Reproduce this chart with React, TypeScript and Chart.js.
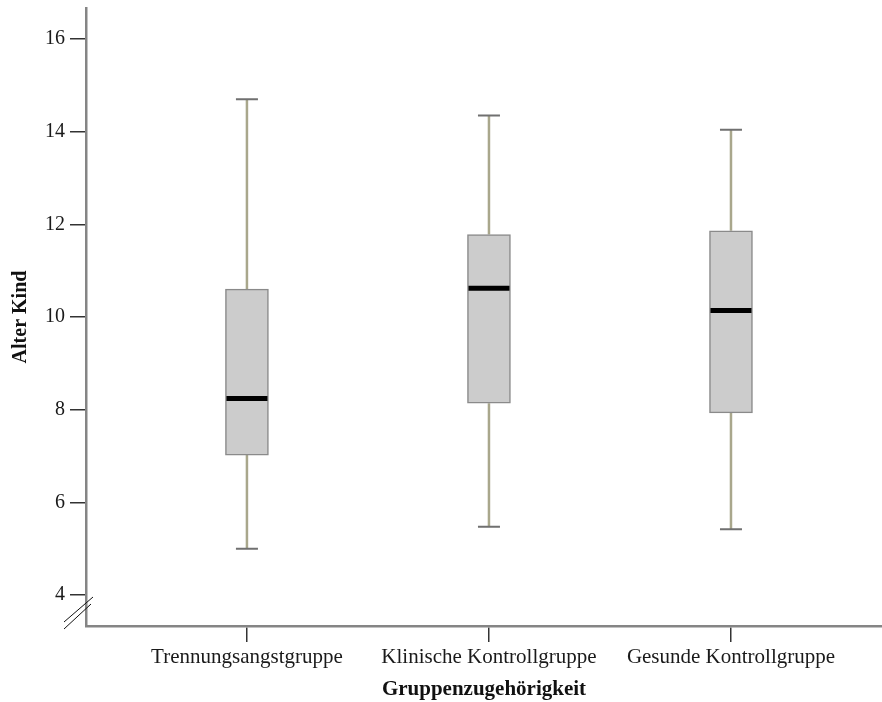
import React, { useEffect, useRef } from "react";
import { Chart, registerables } from "chart.js";

Chart.register(...registerables);

// Groups and their five-number summaries (age of child, years)
const groups = ["Trennungsangstgruppe", "Klinische Kontrollgruppe", "Gesunde Kontrollgruppe"];
const whiskerLow = [5.0, 5.47, 5.42];
const quartile1 = [7.02, 8.14, 7.93];
const medians = [8.24, 10.62, 10.14];
const quartile3 = [10.6, 11.78, 11.86];
const whiskerHigh = [14.7, 14.35, 14.04];
const yTicks = [4, 6, 8, 10, 12, 14, 16];

const SERIF = "'Liberation Serif', 'Times New Roman', Times, serif";

const boxplotPlugin = {
  id: "boxplotParts",
  beforeDatasetsDraw(chart: any) {
    const { ctx, scales } = chart;
    const xs = scales.x;
    const ys = scales.y;
    ctx.save();
    groups.forEach((_, i) => {
      const cx = xs.getPixelForValue(i + 1);
      const yLo = ys.getPixelForValue(whiskerLow[i]);
      const yQ1 = ys.getPixelForValue(quartile1[i]);
      const yQ3 = ys.getPixelForValue(quartile3[i]);
      const yHi = ys.getPixelForValue(whiskerHigh[i]);
      // whisker stems
      ctx.strokeStyle = "#a9a78c";
      ctx.lineWidth = 2.5;
      ctx.beginPath();
      ctx.moveTo(cx, yHi);
      ctx.lineTo(cx, yQ3);
      ctx.moveTo(cx, yQ1);
      ctx.lineTo(cx, yLo);
      ctx.stroke();
      // whisker caps
      ctx.strokeStyle = "#707070";
      ctx.lineWidth = 2;
      ctx.beginPath();
      ctx.moveTo(cx - 11, yHi);
      ctx.lineTo(cx + 11, yHi);
      ctx.moveTo(cx - 11, yLo);
      ctx.lineTo(cx + 11, yLo);
      ctx.stroke();
    });
    ctx.restore();
  },
  afterDatasetsDraw(chart: any) {
    const { ctx, scales } = chart;
    const meta = chart.getDatasetMeta(0);
    ctx.save();
    ctx.strokeStyle = "#000000";
    ctx.lineWidth = 5;
    meta.data.forEach((bar: any, i: number) => {
      const half = bar.width / 2;
      const y = scales.y.getPixelForValue(medians[i]);
      ctx.beginPath();
      ctx.moveTo(bar.x - half + 1, y);
      ctx.lineTo(bar.x + half - 1, y);
      ctx.stroke();
    });
    ctx.restore();
  },
  afterDraw(chart: any) {
    // axis break marks at the foot of the y axis
    const { ctx, chartArea } = chart;
    const x0 = chartArea.left;
    const y0 = chartArea.bottom;
    ctx.save();
    ctx.strokeStyle = "#111";
    ctx.lineWidth = 1;
    ctx.beginPath();
    ctx.moveTo(x0 - 22, y0 - 4);
    ctx.lineTo(x0 + 7, y0 - 29);
    ctx.moveTo(x0 - 22, y0 + 3);
    ctx.lineTo(x0 + 5, y0 - 22);
    ctx.stroke();
    ctx.restore();
  },
};

export default function App() {
  const canvasRef = useRef<HTMLCanvasElement | null>(null);

  useEffect(() => {
    if (!canvasRef.current) return;
    const chart = new Chart(canvasRef.current, {
      type: "bar",
      data: {
        datasets: [
          {
            data: groups.map((_, i) => ({ x: i + 1, y: [quartile1[i], quartile3[i]] })) as any,
            backgroundColor: "#cccccc",
            borderColor: "#8a8a8a",
            borderWidth: 1.5,
            borderSkipped: false,
            barThickness: 43,
          },
        ],
      },
      options: {
        responsive: false,
        animation: false,
        events: [],
        layout: { padding: { top: 8, right: 0, left: 0, bottom: 0 } },
        plugins: { legend: { display: false }, tooltip: { enabled: false } },
        scales: {
          x: {
            type: "linear",
            offset: false,
            min: 0.335,
            max: 3.624,
            afterBuildTicks: (axis: any) => {
              axis.ticks = groups.map((_, i) => ({ value: i + 1 }));
            },
            afterFit: (axis: any) => {
              axis.height = 76;
              axis.paddingLeft = 0;
              axis.paddingRight = 0;
            },
            ticks: {
              callback: (v: any) => groups[Number(v) - 1] ?? "",
              font: { family: SERIF, size: 21 },
              color: "#1a1a1a",
              padding: 3,
              maxRotation: 0,
              autoSkip: false,
            },
            grid: { offset: false, drawOnChartArea: false, tickLength: 16, color: "#333", lineWidth: 1.5 },
            border: { color: "#858585", width: 2.5 },
            title: {
              display: true,
              text: "Gruppenzugehörigkeit",
              font: { family: SERIF, size: 21, weight: "bold" },
              color: "#111",
              padding: { top: 0, bottom: 0 },
            },
          },
          y: {
            type: "linear",
            min: 3.33,
            max: 16.67,
            afterBuildTicks: (axis: any) => {
              axis.ticks = yTicks.map((v) => ({ value: v }));
            },
            afterFit: (axis: any) => {
              axis.width = 86;
              axis.paddingTop = 0;
              axis.paddingBottom = 0;
            },
            ticks: {
              font: { family: SERIF, size: 20 },
              color: "#1a1a1a",
              padding: 5,
            },
            grid: { drawOnChartArea: false, tickLength: 16, color: "#333", lineWidth: 1.5 },
            border: { color: "#858585", width: 2.5 },
            title: {
              display: true,
              text: "Alter Kind",
              font: { family: SERIF, size: 20, weight: "bold" },
              color: "#111",
              padding: { top: 9, bottom: 0 },
            },
          },
        },
      },
      plugins: [boxplotPlugin],
    });
    return () => chart.destroy();
  }, []);

  return (
    <div style={{ position: "fixed", left: 0, top: 0, width: 882, height: 702, background: "#fff" }}>
      <canvas ref={canvasRef} width={882} height={702} style={{ display: "block" }} />
    </div>
  );
}
